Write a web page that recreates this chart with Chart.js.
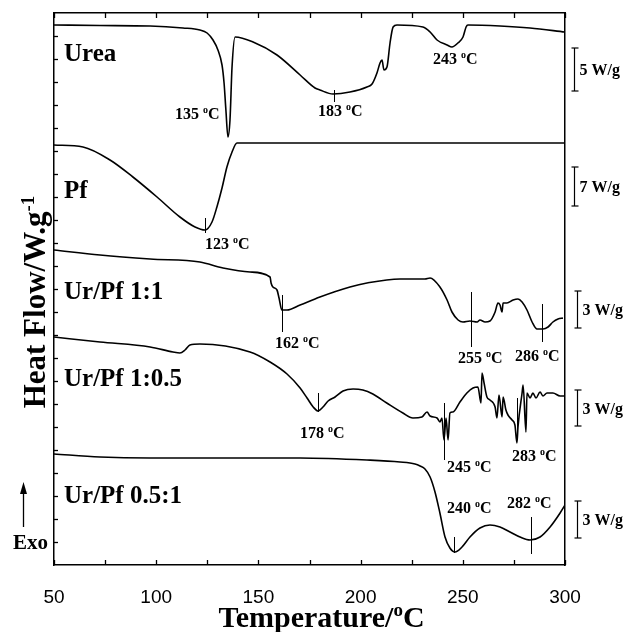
<!DOCTYPE html>
<html>
<head>
<meta charset="utf-8">
<script src="https://cdn.jsdelivr.net/npm/chart.js@4.4.1/dist/chart.umd.min.js"></script>
<style>
  html, body { margin: 0; padding: 0; background: #fff; }
  #wrap { width: 627px; height: 632px; }
</style>
</head>
<body>
<div id="wrap"><canvas id="dsc" width="627" height="632"></canvas></div>
<script>
// temperature in ºC, heat flow in arbitrary units (curves are stacked with offsets)
var ureaT = [50, 72.5, 97, 113.1, 121.4, 124.9, 127.8, 130.2, 132.2, 133.2, 134.1, 135.1, 136.1, 137.1, 138.6, 147.4, 159.1, 170.4, 177.7, 180.1, 186.5, 194.8, 203.1, 205.6, 208, 209.5, 210.5, 211.4, 212.9, 214.4, 215.9, 217.8, 230.5, 234, 237.4, 242.3, 244.7, 247.6, 250.1, 251.6, 252.5, 268.2, 282.9, 300];
var ureaHF = [540, 539.5, 539, 537, 535, 532, 525, 515, 500, 482, 455, 428, 445, 498, 528, 523, 510, 490, 477, 475, 471, 473, 478, 481, 492, 502, 505, 495, 498, 522, 538, 540, 538, 533, 525, 520, 518, 522, 528, 538, 540, 539, 537, 533];

var pfT = [50, 64.2, 77.4, 88.6, 100.4, 111.6, 119, 123.9, 127.3, 129.7, 132.2, 134.6, 137.1, 139.5, 200, 300];
var pfHF = [420, 418, 405, 388, 368, 348, 338, 335, 343, 358, 377, 398, 413, 422, 422, 422];

var mix11T = [50, 72.5, 97, 121.4, 132.7, 145.9, 155.7, 156.2, 157.1, 159.1, 160.1, 161.5, 164, 170.4, 180.1, 194.8, 203.1, 219.3, 231.5, 234, 238.8, 242.3, 244.7, 247.7, 250.1, 253.5, 257, 258.4, 260.9, 263.3, 265.8, 267.2, 268.2, 269.2, 269.7, 271.6, 274.6, 277, 279, 281.4, 283.9, 286.3, 289.2, 291.7, 294.1, 296.6, 299];
var mix11HF = [315, 310, 306, 303, 297, 293, 288, 282, 278, 275, 267, 255, 255, 260, 268, 278, 282, 286, 286, 287, 278, 265, 253, 245, 243, 244, 243, 245, 243, 244, 253, 262, 260, 253, 262, 262, 265, 266, 263, 255, 243, 236, 236, 238, 243, 246, 247];

var mix105T = [50, 72.5, 97, 108.2, 111.6, 114.1, 116.5, 121.4, 145.9, 155.7, 164, 170.4, 173.8, 176.8, 179.2, 181.6, 184.1, 187.5, 191.4, 196.3, 201.1, 206, 212.8, 220.7, 225.6, 230, 232.5, 234, 237.4, 238.8, 239.8, 240.8, 241.8, 242.8, 243.7, 245.2, 248.6, 252, 255, 257.4, 258.9, 259.4, 260.4, 261.8, 263.3, 265.8, 266.7, 267.7, 269.2, 269.7, 271.1, 272.1, 274.1, 275.5, 276.5, 277, 279, 279.5, 280.9, 281.4, 282.9, 284.3, 285.8, 287.8, 289.2, 291.2, 294.1, 297.6, 300];
var mix105HF = [228, 223, 218, 213, 212, 215, 220, 221, 213, 203, 191, 177, 167, 158, 154, 158, 164, 168, 174, 176, 175, 171, 162, 152, 147, 148, 153, 149, 147, 143, 147, 125, 147, 125, 152, 153, 163, 172, 177, 178, 162, 192, 182, 168, 165, 158, 147, 170, 148, 168, 155, 150, 145, 140, 122, 138, 172, 180, 133, 172, 167, 172, 167, 173, 169, 172, 172, 169, 169];

var mix051T = [50, 72.5, 97, 121.4, 170.4, 203.1, 219.3, 226.6, 229.1, 231.5, 234, 236.4, 238.8, 241.3, 243.7, 246.2, 249.6, 253.5, 258.4, 263.3, 268.2, 273.1, 278, 282.9, 287.8, 292.7, 297.6, 300];
var mix051HF = [111, 108, 107, 107, 107, 105, 103, 101, 99, 96, 88, 73, 52, 28, 17, 13, 18, 28, 37, 40, 38, 33, 28, 25, 28, 38, 52, 60];

var nameText = ['Urea', 'Pf', 'Ur/Pf 1:1', 'Ur/Pf 1:0.5', 'Ur/Pf 0.5:1'];
var nameHF = [513, 376, 275, 188, 71];

// peak labels (label left edge / middle) and the little vertical markers
var peakText = ['135', '183', '243', '123', '162', '255', '286', '178', '245', '283', '240', '282'];
var peakLabelT = [109.2, 179.2, 235.4, 123.9, 158.1, 247.7, 275.5, 170.4, 242.3, 274.1, 242.3, 271.6];
var peakLabelHF = [452, 455, 507, 322, 223, 208, 210, 133, 99, 110, 58, 63];
var markT = [null, 187, null, 123.9, 161.5, 254, 288.7, 179.2, 240.8, 276.5, 245.7, 283.4];
var markTop = [null, 475, null, 347, 270, 273, 261, 172, 162, 167, 28, 48];
var markBottom = [null, 463, null, 332, 233, 218, 223, 153, 105, 128, 12, 11];

// W/g scale bars on the right
var barText = ['5 W/g', '7 W/g', '3 W/g', '3 W/g', '3 W/g'];
var barTop = [517, 398, 274, 175, 64];
var barBottom = [474, 359, 237, 139, 27];

var SERIF = '"Liberation Serif", "Times New Roman", serif';
var barOffset = [9, 9, 12, 12, 12];

function zip(xs, ys) {
    return xs.map(function (x, i) { return [x, ys[i]]; });
}

// draws text parts left to right; array parts are superscripts
function drawRuns(ctx, x, y, size, parts, measureOnly) {
    var start = x;
    parts.forEach(function (p) {
        var sup = Array.isArray(p);
        var t = sup ? p[0] : p;
        ctx.font = 'bold ' + (sup ? Math.round(size * 0.62) : size) + 'px ' + SERIF;
        if (!measureOnly) {
            ctx.fillText(t, x, sup ? y - size * 0.36 : y);
        }
        x += ctx.measureText(t).width;
    });
    return x - start;
}

function line(ctx, x1, y1, x2, y2) {
    ctx.beginPath();
    ctx.moveTo(x1, y1);
    ctx.lineTo(x2, y2);
    ctx.stroke();
}

var overlay = {
    id: 'overlay',
    afterDraw: function (chart) {
        var ctx = chart.ctx, xs = chart.scales.x, ys = chart.scales.y, a = chart.chartArea;
        var t, v, px, py, w;
        ctx.save();
        ctx.fillStyle = '#000';
        ctx.strokeStyle = '#000';
        ctx.textAlign = 'left';
        ctx.textBaseline = 'alphabetic';

        // inward ticks
        ctx.lineWidth = 1.3;
        for (t = 50; t <= 300; t += 25) {
            px = Math.round(xs.getPixelForValue(t)) + 0.5;
            line(ctx, px, a.bottom, px, a.bottom - 5);
            line(ctx, px, a.top, px, a.top + 5);
        }
        for (v = 23; v < 552; v += 23) {
            py = Math.round(ys.getPixelForValue(v)) + 0.5;
            line(ctx, a.left, py, a.left + 4, py);
        }

        // curve names
        ctx.font = 'bold 25px ' + SERIF;
        nameText.forEach(function (n, i) {
            ctx.fillText(n, a.left + 10, ys.getPixelForValue(nameHF[i]) + 8.5);
        });

        // peak markers and temperatures
        ctx.lineWidth = 1;
        markT.forEach(function (mt, i) {
            if (mt === null) return;
            var x = Math.round(xs.getPixelForValue(mt)) + 0.5;
            line(ctx, x, ys.getPixelForValue(markTop[i]), x, ys.getPixelForValue(markBottom[i]));
        });
        peakText.forEach(function (p, i) {
            drawRuns(ctx, xs.getPixelForValue(peakLabelT[i]), ys.getPixelForValue(peakLabelHF[i]) + 5.5, 16, [p + ' ', ['o'], 'C']);
        });

        // scale bars
        barText.forEach(function (b, i) {
            var x = Math.round(a.right + barOffset[i]) + 0.5;
            var y1 = ys.getPixelForValue(barTop[i]), y2 = ys.getPixelForValue(barBottom[i]);
            ctx.lineWidth = 1.2;
            line(ctx, x, y1, x, y2);
            line(ctx, x - 3, y1, x + 4, y1);
            line(ctx, x - 3, y2, x + 4, y2);
            drawRuns(ctx, x + 5, (y1 + y2) / 2 + 5.5, 16, [b]);
        });

        // Exo arrow
        ctx.lineWidth = 1.3;
        line(ctx, 23.5, 527, 23.5, 492);
        ctx.beginPath();
        ctx.moveTo(23.5, 482);
        ctx.lineTo(20, 494);
        ctx.lineTo(27, 494);
        ctx.closePath();
        ctx.fill();
        ctx.font = 'bold 21px ' + SERIF;
        ctx.fillText('Exo', 13, 549);

        // axis titles
        var xParts = ['Temperature/', ['o'], 'C'];
        w = drawRuns(ctx, 0, 0, 30, xParts, true);
        drawRuns(ctx, (a.left + a.right) / 2 + 12 - w / 2, 627, 30, xParts);

        var yParts = ['Heat Flow/W.g', ['-1']];
        w = drawRuns(ctx, 0, 0, 31, yParts, true);
        ctx.translate(45, 302);
        ctx.rotate(-Math.PI / 2);
        drawRuns(ctx, -w / 2, 0, 31, yParts);
        ctx.restore();
    }
};

var curves = [[ureaT, ureaHF], [pfT, pfHF], [mix11T, mix11HF], [mix105T, mix105HF], [mix051T, mix051HF]];
var axisBorder = { display: true, color: '#000', width: 1.5 };

new Chart(document.getElementById('dsc'), {
    type: 'line',
    data: {
        datasets: curves.map(function (c, i) {
            return {
                label: nameText[i],
                data: zip(c[0], c[1]),
                borderColor: '#000',
                borderWidth: 1.6,
                pointRadius: 0,
                fill: false,
                cubicInterpolationMode: 'monotone'
            };
        })
    },
    options: {
        responsive: false,
        animation: false,
        events: [],
        layout: { padding: 0 },
        plugins: { legend: { display: false }, tooltip: { enabled: false } },
        scales: {
            x: {
                type: 'linear', position: 'bottom', min: 50, max: 300,
                grid: { display: false },
                border: axisBorder,
                ticks: { stepSize: 50, color: '#000', padding: 13, font: { family: '"Liberation Sans", Arial, sans-serif', size: 19 } },
                afterFit: function (s) { s.height = 67; }
            },
            x2: {
                type: 'linear', position: 'top', min: 50, max: 300,
                grid: { display: false },
                border: axisBorder,
                ticks: { display: false },
                afterFit: function (s) { s.height = 13; }
            },
            y: {
                type: 'linear', position: 'left', min: 0, max: 552,
                grid: { display: false },
                border: axisBorder,
                ticks: { display: false },
                afterFit: function (s) { s.width = 54; }
            },
            y2: {
                type: 'linear', position: 'right', min: 0, max: 552,
                grid: { display: false },
                border: axisBorder,
                ticks: { display: false },
                afterFit: function (s) { s.width = 62; }
            }
        }
    },
    plugins: [overlay]
});
</script>
</body>
</html>
